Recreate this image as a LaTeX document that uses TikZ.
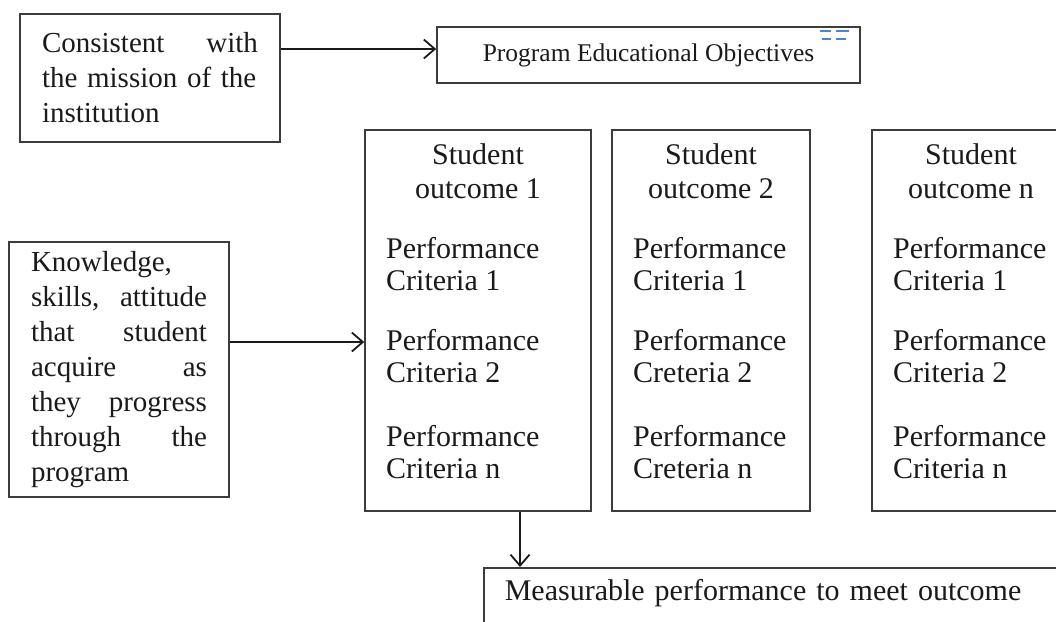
\documentclass[tikz,border=0pt]{standalone}
\usepackage{fontspec}
\setmainfont{Liberation Serif}
\usetikzlibrary{arrows.meta}
\definecolor{frame}{HTML}{3C3C3C}
\definecolor{ink}{HTML}{1A1A1A}
\definecolor{markblue}{HTML}{4A86C8}

\begin{document}
\begin{tikzpicture}[x=1pt,y=-1pt,>={Straight Barb[length=11pt,width=19pt]},
box/.style={draw=frame,line width=1.6pt,inner sep=0pt,text=ink},
txt/.style={font=\fontsize{29}{35}\selectfont},
so/.style={box,minimum height=381pt},
lab/.style={font=\fontsize{30}{34}\selectfont,align=center,inner sep=0pt,text=ink},
crit/.style={lab,font=\fontsize{30}{32}\selectfont,align=left,anchor=west},
link/.style={->,line width=1.8pt,draw=ink}]
\useasboundingbox (0,0) rectangle (1056,621);
% left column
\node[box,txt,text width=216pt,inner xsep=22pt,minimum height=128pt] (mission) at (150,78)
  {Consistent\hfill with\\the mission of the\\institution};
\node[box,txt,text width=176pt,inner xsep=22pt,minimum height=255pt] (know) at (119,369.5)
  {Knowledge,\\skills,\hfill attitude\\that\hfill student\\acquire\hfill as\\they\hfill progress\\through\hfill the\\program};
% objectives
\node[box,font=\fontsize{25.5}{30}\selectfont,minimum width=423pt,minimum height=56pt] (peo) at (648.5,55)
  {Program Educational Objectives};
\draw[markblue,line width=2.4pt] (820,31)--(831,31) (836,31)--(849,31) (822,39)--(831,39) (836,39)--(846,39);
% outcome columns
\foreach \k/\x/\w/\c in {1/478/226/Criteria,2/711/198/Creteria,n/971/198/Criteria}{
  \node[so,minimum width=\w pt] (so\k) at (\x,320.5) {};
  \node[lab] (so\k-t) at (\x,171) {Student\\outcome \k};
  \foreach \r/\y/\cw in {1/264/Criteria,2/356/\c,n/452/\c}
    \node[crit] (so\k-c\r) at (\x-\w/2+21,\y) {Performance\\\cw\ \r};
}
% measurable performance
\node[box,txt,font=\fontsize{30}{35}\selectfont,anchor=north west,text width=560pt,inner xsep=21pt,inner ysep=12pt,text depth=25pt] (meas) at (483,567)
  {Measurable performance to meet outcome};
% links
\coordinate (peoin) at ([yshift=6pt]peo.west);
\draw[link] (mission.east |- peoin) -- (peoin);
\coordinate (knowout) at ([yshift=27.5pt]know.east);
\draw[link] (knowout) -- (knowout -| so1.west);
\coordinate (so1out) at ([xshift=42pt]so1.south);
\draw[link] (so1out) -- (so1out |- meas.north);
\end{tikzpicture}
\end{document}
